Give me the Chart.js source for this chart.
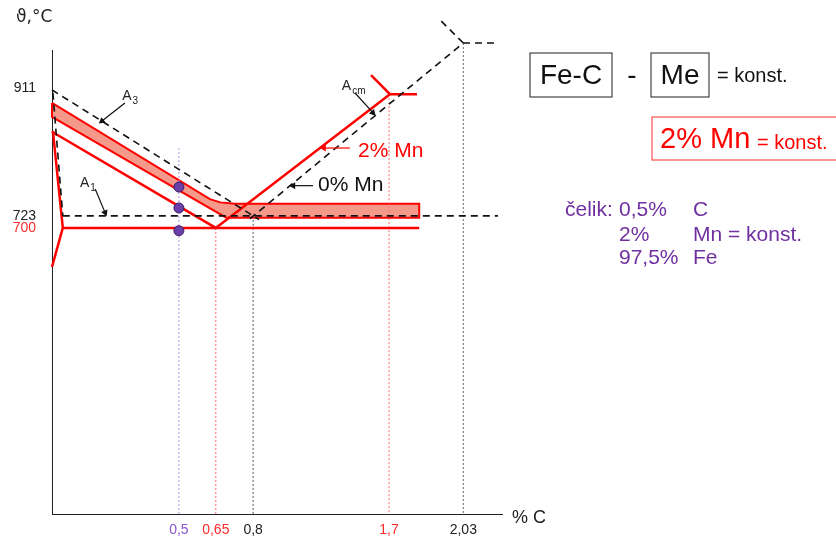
<!DOCTYPE html>
<html>
<head>
<meta charset="utf-8">
<script src="https://cdn.jsdelivr.net/npm/chart.js@4/dist/chart.umd.min.js"></script>
<style>
  html, body { margin: 0; padding: 0; background: #fff; }
  #wrap { width: 836px; height: 539px; }
</style>
</head>
<body>
<div id="wrap"><canvas id="diagram"></canvas></div>
<script>
// schematic diagram units: x and y both run 0..100 along the drawn axes
const xTickPos = [28.2, 36.4, 44.7, 74.9, 91.4];
const xTickLabels = ['0,5', '0,65', '0,8', '1,7', '2,03'];
const xTickColors = ['#8a55cc', '#ff2a2a', '#222', '#ff2a2a', '#222'];

const yTickPos = [61.7, 64.3, 91.8];
const yTickLabels = ['700', '723', '911'];
const yTickColors = ['#ff2a2a', '#222', '#222'];

// 2% Mn transformation band (A3 region), closed shape
const bandMn = [[0, 88.6], [35.1, 67.9], [37.4, 67.2], [40.7, 66.9], [81.6, 66.9],
                [81.6, 63.9], [38.7, 63.9], [0, 85.6], [0, 88.6]];

// red lines, 2% Mn
const redA3Acm = [[0, 82.4], [36.4, 61.7], [75.1, 90.5]];
const redAcmTop = [[70.9, 94.6], [75.1, 90.5], [81.1, 90.5]];
const redLeft = [[0.2, 82.6], [2.4, 61.7], [0, 53.3]];
const redA1 = [[2.4, 61.7], [81.6, 61.7]];

// black dashed lines, 0% Mn (Fe-C)
const blackA3 = [[0, 91.4], [44.7, 64.3], [46, 63.5]];
const blackGS = [[0.2, 90.8], [2.4, 64.3]];
const blackA1 = [[2.4, 64.3], [99.1, 64.3]];
const blackAcm = [[44, 63.7], [91.4, 101.5], [99.1, 101.5]];
const blackEtop = [[91.4, 101.5], [86.2, 106.5]];

// dotted verticals
const dropLines = [
  { x: 28.2, top: 78.9, color: '#b48ee2' },
  { x: 36.4, top: 61.7, color: '#ff6a6a' },
  { x: 44.7, top: 64.3, color: '#555' },
  { x: 74.9, top: 90.5, color: '#ff6a6a' },
  { x: 91.4, top: 101.5, color: '#666' }
];

// steel 0,5% C points
const steelDots = [[28.2, 70.5], [28.2, 66.0], [28.2, 61.1]];

// annotation arrows
const arrows = [
  { from: [16.2, 88.6], to: [11.1, 84.7], color: '#111' },
  { from: [9.6, 70.1], to: [11.8, 65.0], color: '#111' },
  { from: [67.3, 90.8], to: [71.3, 86.5], color: '#111' },
  { from: [66.2, 78.9], to: [60.4, 78.9], color: '#ff0000' },
  { from: [58.0, 70.8], to: [53.6, 70.8], color: '#111' }
];

const labels = [
  { main: 'A', sub: '3', x: 15.6, y: 90.1, color: '#222', size: 14 },
  { main: 'A', sub: '1', x: 6.2, y: 71.4, color: '#222', size: 14 },
  { main: 'A', sub: 'cm', x: 64.4, y: 92.2, color: '#222', size: 14 },
  { main: '2% Mn', sub: '', x: 68.0, y: 78.3, color: '#ff0000', size: 21 },
  { main: '0% Mn', sub: '', x: 59.1, y: 70.8, color: '#111', size: 21 }
];

const FONT = "'Liberation Sans', Arial, sans-serif";
const pts = arr => arr.map(p => ({ x: p[0], y: p[1] }));

// lower order is drawn on top
function lineSet(arr, color, width, dash, order) {
  return {
    data: pts(arr), borderColor: color, borderWidth: width, borderDash: dash || [],
    pointRadius: 0, fill: false, clip: false, tension: 0, order: order
  };
}

const datasets = [];
datasets.push({
  data: pts(bandMn), borderColor: '#ff0000', borderWidth: 2, backgroundColor: '#f59a8a',
  fill: 'shape', pointRadius: 0, clip: false, order: 10
});
dropLines.forEach(d => datasets.push(lineSet([[d.x, d.top], [d.x, 0]], d.color, 1, [2, 2], 8)));
[redA3Acm, redAcmTop, redLeft, redA1].forEach(a => datasets.push(lineSet(a, '#ff0000', 2.5, [], 6)));
[blackA3, blackGS, blackA1, blackAcm, blackEtop].forEach(a => datasets.push(lineSet(a, '#111', 1.6, [7, 5], 5)));

arrows.forEach(a => datasets.push({
  data: pts([a.from, a.to]), borderColor: a.color, borderWidth: 1.2, fill: false, clip: false, order: 3,
  pointRadius: [0, 4], pointStyle: 'triangle', pointBackgroundColor: a.color, pointBorderWidth: 0,
  pointRotation: ctx => {
    const d = ctx.dataset.data, sx = ctx.chart.scales.x, sy = ctx.chart.scales.y;
    const dx = sx.getPixelForValue(d[1].x) - sx.getPixelForValue(d[0].x);
    const dy = sy.getPixelForValue(d[1].y) - sy.getPixelForValue(d[0].y);
    return Math.atan2(dx, -dy) * 180 / Math.PI;
  }
}));

datasets.push({
  data: pts(steelDots), showLine: false, pointRadius: 5, pointBackgroundColor: '#6b3fa8',
  pointBorderColor: '#3a1d66', pointBorderWidth: 1, clip: false, order: 1
});

const textPlugin = {
  id: 'texts',
  afterDatasetsDraw(chart) {
    const c = chart.ctx, sx = chart.scales.x, sy = chart.scales.y;
    c.save();
    c.textBaseline = 'middle';
    c.textAlign = 'left';

    labels.forEach(l => {
      const px = sx.getPixelForValue(l.x), py = sy.getPixelForValue(l.y);
      c.fillStyle = l.color;
      c.font = l.size + 'px ' + FONT;
      c.fillText(l.main, px, py);
      if (l.sub) {
        const w = c.measureText(l.main).width;
        c.font = Math.round(l.size * 0.7) + 'px ' + FONT;
        c.fillText(l.sub, px + w + 1, py + 5);
      }
    });

    // axis titles
    c.fillStyle = '#222';
    c.font = "17px 'DejaVu Sans', " + FONT;
    c.fillText('\u03d1,\u00b0C', 16, 18);
    c.font = '18px ' + FONT;
    c.fillText('% C', 512, 518);

    // Fe-C - Me = konst.
    c.strokeStyle = '#444';
    c.lineWidth = 1.2;
    c.strokeRect(530, 53, 82, 44);
    c.strokeRect(651, 53, 58, 44);
    c.fillStyle = '#111';
    c.font = '28px ' + FONT;
    c.textAlign = 'center';
    c.fillText('Fe-C', 571, 76);
    c.fillText('-', 632, 76);
    c.fillText('Me', 680, 76);
    c.textAlign = 'left';
    c.font = '20px ' + FONT;
    c.fillText('= konst.', 717, 76);

    // 2% Mn = konst.
    c.strokeStyle = '#ff5050';
    c.strokeRect(652, 117, 190, 43);
    c.fillStyle = '#ff0000';
    c.font = '29px ' + FONT;
    c.fillText('2% Mn', 660, 140);
    c.font = '20px ' + FONT;
    c.fillText('= konst.', 757, 143);

    // steel composition
    c.fillStyle = '#7030a0';
    c.font = '21px ' + FONT;
    c.fillText('\u010delik:', 565, 210);
    c.fillText('0,5%', 619, 210);
    c.fillText('C', 693, 210);
    c.fillText('2%', 619, 235);
    c.fillText('Mn = konst.', 693, 235);
    c.fillText('97,5%', 619, 258);
    c.fillText('Fe', 693, 258);
    c.restore();
  }
};

new Chart(document.getElementById('diagram').getContext('2d'), {
  type: 'line',
  data: { datasets: datasets },
  options: {
    responsive: true,
    maintainAspectRatio: false,
    animation: false,
    events: [],
    layout: { padding: { top: 50, right: 334, bottom: 0, left: 0 } },
    plugins: { legend: { display: false }, tooltip: { enabled: false } },
    scales: {
      x: {
        type: 'linear', min: 0, max: 100,
        grid: { display: false, drawTicks: false },
        border: { display: true, color: '#222', width: 1 },
        afterBuildTicks: axis => { axis.ticks = xTickPos.map(v => ({ value: v })); },
        afterFit: axis => { axis.height = 24; },
        ticks: {
          autoSkip: false, maxRotation: 0, padding: 7,
          font: { family: FONT, size: 14 },
          color: ctx => xTickColors[ctx.index],
          callback: (v, i) => xTickLabels[i]
        }
      },
      y: {
        type: 'linear', min: 0, max: 100,
        grid: { display: false, drawTicks: false },
        border: { display: true, color: '#222', width: 1 },
        afterBuildTicks: axis => { axis.ticks = yTickPos.map(v => ({ value: v })); },
        afterFit: axis => { axis.width = 52; },
        ticks: {
          autoSkip: false, padding: 16,
          font: { family: FONT, size: 14 },
          color: ctx => yTickColors[ctx.index],
          callback: (v, i) => yTickLabels[i]
        }
      }
    }
  },
  plugins: [textPlugin]
});
</script>
</body>
</html>
